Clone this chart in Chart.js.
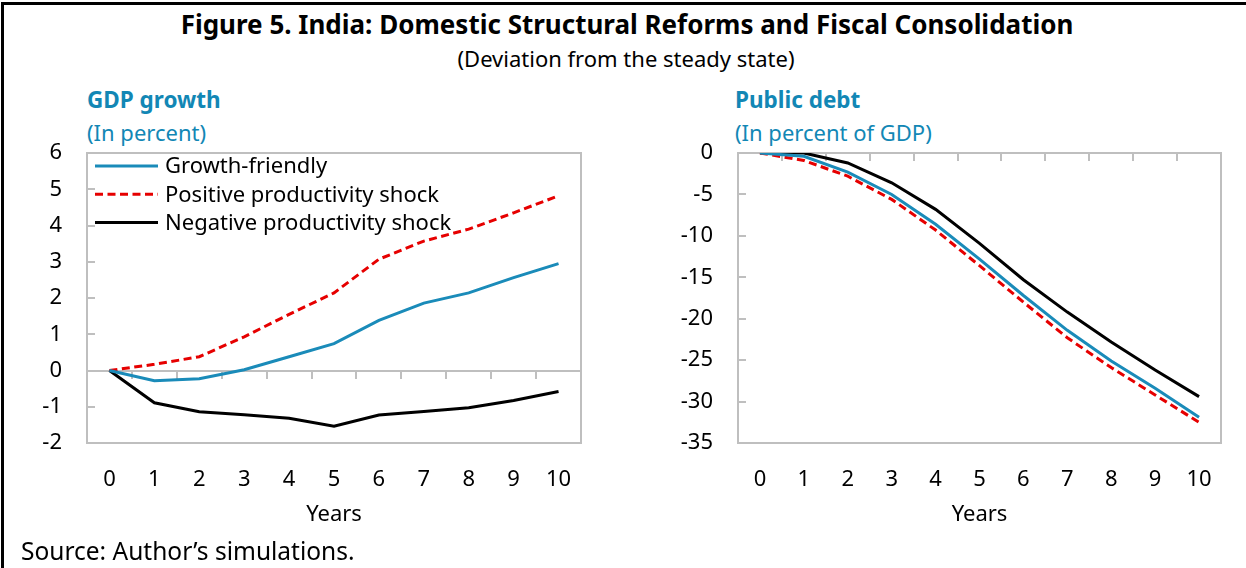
<!DOCTYPE html>
<html>
<head>
<meta charset="utf-8">
<script src="https://cdn.jsdelivr.net/npm/chart.js@4"></script>
<style>
  body { margin: 0; background: #fff; }
  #page { position: relative; width: 1246px; height: 568px; overflow: hidden; background: #fff;
          font-family: "Noto Sans", "Open Sans", sans-serif; color: #000; }
  #frame { position: absolute; left: 1px; top: 2px; right: 0; bottom: 0;
           border-left: 3px solid #000; border-top: 3px solid #000; }
  .txt { position: absolute; white-space: nowrap; line-height: 30px; }
  .title { left: 0; width: 1254px; text-align: center; top: 9px; font-size: 26px; font-weight: bold; }
  .subtitle { left: 0; width: 1252px; text-align: center; top: 43px; font-size: 22px; }
  .panel { font-size: 22.5px; font-weight: bold; color: #1287B5; top: 85px; }
  .unit { font-size: 22px; color: #1287B5; top: 117px; }
  .source { left: 21px; top: 536px; font-size: 24.5px; }
  canvas { position: absolute; }
</style>
</head>
<body>
<div id="page">
  <div id="frame"></div>
  <div class="txt title">Figure 5. India: Domestic Structural Reforms and Fiscal Consolidation</div>
  <div class="txt subtitle">(Deviation from the steady state)</div>
  <div class="txt panel" style="left:87px">GDP growth</div>
  <div class="txt unit" style="left:87px">(In percent)</div>
  <div class="txt panel" style="left:735px">Public debt</div>
  <div class="txt unit" style="left:735px">(In percent of GDP)</div>
  <canvas id="gdpChart" width="620" height="400" style="left:0;top:140px"></canvas>
  <canvas id="debtChart" width="606" height="400" style="left:640px;top:140px"></canvas>
  <div class="txt source">Source: Author’s simulations.</div>
</div>
<script>
// Years after the shock
var years = ['0', '1', '2', '3', '4', '5', '6', '7', '8', '9', '10'];
var seriesNames = ['Growth-friendly', 'Positive productivity shock', 'Negative productivity shock'];

// GDP growth, percent deviation
var gdpGrowthFriendly = [0, -0.28, -0.23, 0.02, 0.38, 0.74, 1.38, 1.86, 2.14, 2.56, 2.95];
var gdpPositive = [0, 0.17, 0.38, 0.93, 1.55, 2.14, 3.07, 3.57, 3.90, 4.35, 4.82];
var gdpNegative = [0, -0.89, -1.14, -1.22, -1.32, -1.54, -1.23, -1.13, -1.03, -0.83, -0.58];

// Public debt, percent of GDP deviation
var debtGrowthFriendly = [0, -0.4, -2.3, -5.0, -8.6, -12.8, -17.2, -21.4, -25.1, -28.4, -31.9];
var debtPositive = [0, -0.9, -2.8, -5.6, -9.3, -13.6, -18.0, -22.3, -25.9, -29.2, -32.5];
var debtNegative = [0, 0, -1.2, -3.6, -6.8, -10.9, -15.3, -19.2, -22.8, -26.2, -29.4];

var FONT = '"Noto Sans", "Open Sans", sans-serif';
var blue = '#1A8BB9';
var red = '#E60000';
var black = '#000000';
var axisGray = '#BFBFBF';

function makeDatasets(a, b, c) {
    return [
        { label: seriesNames[0], data: a, borderColor: blue, borderWidth: 3 },
        { label: seriesNames[1], data: b, borderColor: red, borderWidth: 3, borderDash: [8, 4.5] },
        { label: seriesNames[2], data: c, borderColor: black, borderWidth: 3 }
    ];
}

// Box around the plot area, the zero axis with its category ticks, and inward y ticks
var axisFrame = {
    id: 'axisFrame',
    beforeDatasetsDraw: function (chart) {
        var ctx = chart.ctx, a = chart.chartArea;
        var x = chart.scales.x, y = chart.scales.y;
        var y0 = Math.round(y.getPixelForValue(0));
        ctx.save();
        ctx.strokeStyle = axisGray;
        ctx.lineWidth = 2;
        ctx.strokeRect(a.left, a.top, a.right - a.left, a.bottom - a.top);
        ctx.beginPath();
        ctx.moveTo(a.left, y0);
        ctx.lineTo(a.right, y0);
        for (var i = 1; i < years.length; i++) {
            var bx = Math.round((x.getPixelForValue(i - 1) + x.getPixelForValue(i)) / 2);
            ctx.moveTo(bx, y0);
            ctx.lineTo(bx, y0 + 8);
        }
        y.ticks.forEach(function (t) {
            var ty = Math.round(y.getPixelForValue(t.value));
            ctx.moveTo(a.left, ty);
            ctx.lineTo(a.left + 8, ty);
        });
        ctx.stroke();
        ctx.restore();
    }
};

// Legend drawn inside the plot area, top left
var lineLegend = {
    id: 'lineLegend',
    afterDatasetsDraw: function (chart, args, opts) {
        if (!opts.show) return;
        var ctx = chart.ctx, a = chart.chartArea;
        ctx.save();
        ctx.font = '22px ' + FONT;
        ctx.textBaseline = 'middle';
        ctx.fillStyle = '#000';
        chart.data.datasets.forEach(function (ds, i) {
            var cy = a.top + 13 + i * 28.3;
            ctx.beginPath();
            ctx.strokeStyle = ds.borderColor;
            ctx.lineWidth = ds.borderWidth;
            ctx.setLineDash(ds.borderDash || []);
            ctx.moveTo(a.left + 8, cy);
            ctx.lineTo(a.left + 71, cy);
            ctx.stroke();
            ctx.setLineDash([]);
            ctx.fillText(ds.label, a.left + 78, cy + 1);
        });
        ctx.restore();
    }
};

function makeOptions(yMin, yMax, step, padRight, yWidth, showLegend) {
    return {
        responsive: false,
        animation: false,
        layout: { padding: { left: 0, top: 13, right: padRight, bottom: 0 } },
        elements: { point: { radius: 0 }, line: { tension: 0, borderCapStyle: 'butt' } },
        plugins: {
            legend: { display: false },
            tooltip: { enabled: false },
            lineLegend: { show: showLegend }
        },
        scales: {
            x: {
                offset: true,
                grid: { display: false, drawTicks: false },
                border: { display: false },
                ticks: { color: '#000', padding: 24, maxRotation: 0, font: { family: FONT, size: 22 } },
                title: {
                    display: true, text: 'Years', color: '#000',
                    font: { family: FONT, size: 22 }, padding: { top: 0, bottom: 12 }
                },
                afterFit: function (s) { s.height = 97; }
            },
            y: {
                min: yMin, max: yMax,
                grid: { display: false, drawTicks: false },
                border: { display: false },
                ticks: { stepSize: step, color: '#000', padding: 25, font: { family: FONT, size: 22 } },
                afterFit: function (s) {
                    s.width = yWidth;
                    s.paddingTop = 12;
                    s.paddingBottom = 12;
                }
            }
        }
    };
}

new Chart(document.getElementById('gdpChart'), {
    type: 'line',
    data: { labels: years, datasets: makeDatasets(gdpGrowthFriendly, gdpPositive, gdpNegative) },
    options: makeOptions(-2, 6, 1, 39, 87, true),
    plugins: [axisFrame, lineLegend]
});

new Chart(document.getElementById('debtChart'), {
    type: 'line',
    data: { labels: years, datasets: makeDatasets(debtGrowthFriendly, debtPositive, debtNegative) },
    options: makeOptions(-35, 0, 5, 25, 98, false),
    plugins: [axisFrame, lineLegend]
});
</script>
</body>
</html>
